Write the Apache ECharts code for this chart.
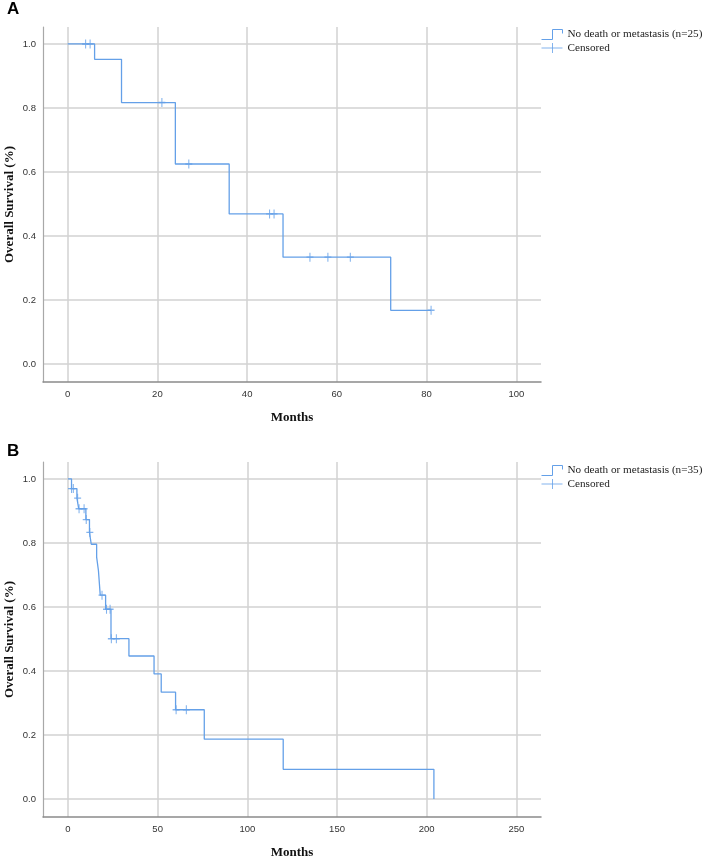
<!DOCTYPE html>
<html>
<head>
<meta charset="utf-8">
<script src="https://cdn.jsdelivr.net/npm/echarts@6/dist/echarts.min.js"></script>
<style>html,body{margin:0;padding:0;background:#fff;}#c{width:706px;height:858px;}</style>
</head>
<body>
<div id="c"></div>
<script>
// Panel A data
var timesA = [0, 6, 12, 24, 36, 48, 72, 81];
var survA = [1.0, 0.952, 0.817, 0.625, 0.469, 0.334, 0.168, 0.168];
var censorTimesA = [4, 5, 21, 27, 45, 46, 54, 58, 63, 81];
var censorSurvA = [1.0, 1.0, 0.817, 0.625, 0.469, 0.469, 0.334, 0.334, 0.334, 0.168];

// Panel B data
var timesB = [0, 2, 5, 6, 10, 12, 13, 16, 17, 18, 21, 24, 34, 48, 52, 60, 76, 120, 204];
var survB = [1.0, 0.970, 0.940, 0.907, 0.873, 0.833, 0.796, 0.756, 0.714, 0.637, 0.593, 0.501, 0.447, 0.391, 0.334, 0.279, 0.187, 0.093, 0.0];
var censorTimesB = [2, 3, 5.4, 6.2, 9, 10.2, 12.2, 19, 21.5, 23.5, 24.2, 27, 60.3, 66];
var censorSurvB = [0.970, 0.970, 0.940, 0.907, 0.907, 0.873, 0.833, 0.637, 0.593, 0.593, 0.501, 0.501, 0.279, 0.279];

// Tick labels
var xTicksA = [0, 20, 40, 60, 80, 100];
var xTicksB = [0, 50, 100, 150, 200, 250];
var yTicks = [0, 0.2, 0.4, 0.6, 0.8, 1.0];

var nameA = 'No death or metastasis (n=25)';
var nameB = 'No death or metastasis (n=35)';
var censName = 'Censored';

function pairs(xs, ys) { return xs.map(function (x, i) { return [x, ys[i]]; }); }

var C = '#64a0e8';
var GRID = '#d2d2d2';
var serif = 'Liberation Serif';
var sans = 'Liberation Sans';
var stepIcon = 'path://M0,10L11,10L11,0L21,0L21,4';
var plusIcon = 'path://M0,5L21,5M11,0L11,10';
var plusSym = 'path://M0,5L10,5M5,0L5,10';

function xAxis(idx, min, max, ticks) {
  return {
    type: 'value', gridIndex: idx, min: min, max: max,
    name: 'Months', nameLocation: 'middle', nameGap: 29,
    nameTextStyle: { fontFamily: serif, fontWeight: 'bold', fontSize: 13, color: '#111' },
    axisLine: { show: true, onZero: false, lineStyle: { color: '#8a8a8a', width: 1.5 } },
    axisTick: { show: false, customValues: ticks },
    axisLabel: { customValues: ticks, fontFamily: sans, fontSize: 9.5, color: '#333', margin: 7 },
    splitLine: { show: true, lineStyle: { color: GRID, width: 1.5 } }
  };
}
function yAxis(idx) {
  return {
    type: 'value', gridIndex: idx, min: -0.056, max: 1.053,
    name: 'Overall Survival (%)', nameLocation: 'middle', nameGap: 27, nameMoveOverlap: false,
    nameTextStyle: { fontFamily: serif, fontWeight: 'bold', fontSize: 13, color: '#111' },
    axisLine: { show: true, onZero: false, lineStyle: { color: '#a8a8a8', width: 1.2 } },
    axisTick: { show: false, customValues: yTicks },
    axisLabel: { customValues: yTicks, fontFamily: sans, fontSize: 9.5, color: '#333', margin: 7,
      formatter: function (v) { return v.toFixed(1); } },
    splitLine: { show: true, lineStyle: { color: GRID, width: 1.5 } }
  };
}
function legend(top, name) {
  return {
    orient: 'vertical', left: 541, top: top, padding: 0, itemGap: 2.5,
    itemWidth: 21, itemHeight: 10,
    textStyle: { fontFamily: serif, fontSize: 11.2, color: '#222' },
    data: [
      { name: name, icon: stepIcon, itemStyle: { color: 'transparent', borderColor: C, borderWidth: 1 } },
      { name: censName, icon: plusIcon, itemStyle: { color: 'transparent', borderColor: C, borderWidth: 1 } }
    ],
    selectedMode: false
  };
}

var chart = echarts.init(document.getElementById('c'), null, { renderer: 'canvas' });
chart.setOption({
  animation: false,
  backgroundColor: '#fff',
  title: [
    { text: 'A', left: 7, top: 1, padding: 0, textStyle: { fontFamily: sans, fontWeight: 'bold', fontSize: 17, color: '#000' } },
    { text: 'B', left: 7, top: 443, padding: 0, textStyle: { fontFamily: sans, fontWeight: 'bold', fontSize: 17, color: '#000' } }
  ],
  legend: [legend(29, nameA), legend(465, nameB)],
  grid: [
    { left: 43, right: 165, top: 27, bottom: 476, containLabel: false, outerBoundsMode: 'none' },
    { left: 43, right: 165, top: 462, bottom: 41, containLabel: false, outerBoundsMode: 'none' }
  ],
  xAxis: [xAxis(0, -5.5, 105.5, xTicksA), xAxis(1, -13.9, 263.7, xTicksB)],
  yAxis: [yAxis(0), yAxis(1)],
  series: [
    { name: nameA, type: 'line', xAxisIndex: 0, yAxisIndex: 0, step: 'end', showSymbol: false, symbol: 'none',
      lineStyle: { color: C, width: 1.3 }, itemStyle: { color: C }, data: pairs(timesA, survA) },
    { name: censName, type: 'scatter', xAxisIndex: 0, yAxisIndex: 0, symbol: plusSym, symbolSize: [7, 9],
      itemStyle: { color: 'transparent', borderColor: C, borderWidth: 1.2 }, data: pairs(censorTimesA, censorSurvA) },
    { name: nameB, type: 'line', xAxisIndex: 1, yAxisIndex: 1, step: 'end', showSymbol: false, symbol: 'none',
      lineStyle: { color: C, width: 1.3 }, itemStyle: { color: C }, data: pairs(timesB, survB) },
    { name: censName, type: 'scatter', xAxisIndex: 1, yAxisIndex: 1, symbol: plusSym, symbolSize: [7, 9],
      itemStyle: { color: 'transparent', borderColor: C, borderWidth: 1.2 }, data: pairs(censorTimesB, censorSurvB) }
  ]
});
</script>
</body>
</html>
